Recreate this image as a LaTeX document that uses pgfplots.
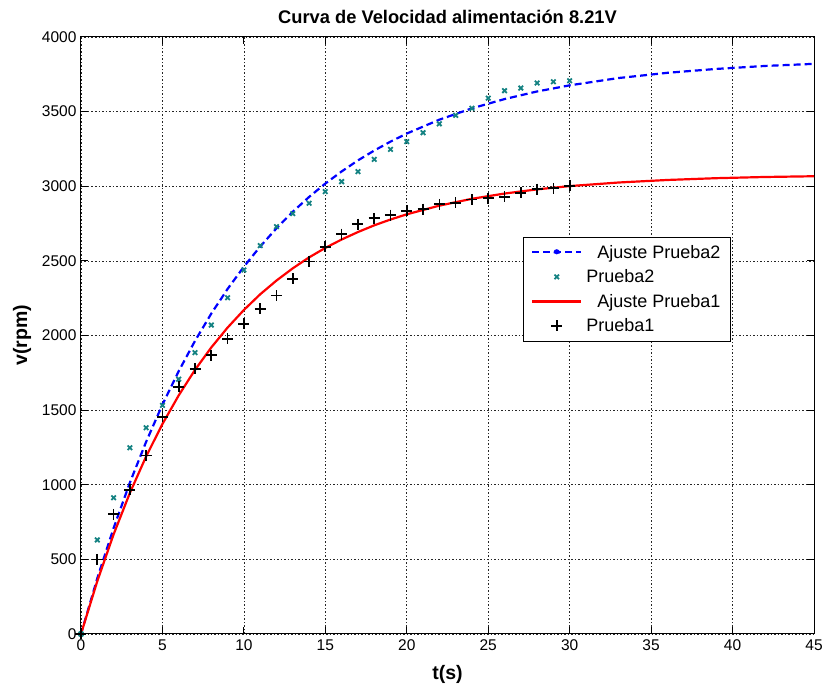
\documentclass[border=0pt]{standalone}
\usepackage{pgfplots}
\pgfplotsset{compat=1.18}
\usepackage{fontspec}
\setmainfont{Liberation Sans}
\definecolor{tealx}{RGB}{20,130,130}

\pgfplotsset{
  legend image code/.code={%
    \draw[mark repeat=2,mark phase=2,#1] plot coordinates {(0pt,0pt) (24.5pt,0pt) (49pt,0pt)};},
  dotlegend/.style={legend image code/.code={%
    \draw[##1] (0pt,0pt) -- (49pt,0pt); \fill[blue] (24.5pt,0pt) circle (2pt);}},
}

\begin{document}
\begin{tikzpicture}
\begin{axis}[
  scale only axis, width=733pt, height=597pt,
  xmin=0, xmax=45, ymin=0, ymax=4000,
  xtick={0,5,...,45}, ytick={0,500,...,4000},
  tick pos=both, tick align=inside, major tick length=7pt,
  grid=major,
  major grid style={black!85, line width=0.6pt, dash pattern=on 1.5pt off 2pt},
  axis line style={line width=1pt},
  every tick/.style={black, line width=1pt},
  xticklabel={\fontsize{15.5}{18}\selectfont\pgfmathprintnumber[assume math mode=true]{\tick}},
  yticklabel={\fontsize{15.5}{18}\selectfont\pgfmathprintnumber[assume math mode=true,set thousands separator={}]{\tick}},
  xticklabel style={yshift=-2pt},
  yticklabel style={xshift=-1pt},
  scaled y ticks=false,
  title={Curva de Velocidad alimentación 8.21V},
  title style={font=\fontsize{18.3}{22}\selectfont\bfseries, at={(axis description cs:0.5,1)}, anchor=center, yshift=14pt},
  xlabel={t(s)}, ylabel={v(rpm)},
  xlabel style={font=\fontsize{19.5}{22}\selectfont\bfseries, at={(axis description cs:0.5,0)}, anchor=center, yshift=-40pt},
  ylabel style={font=\fontsize{19.5}{22}\selectfont\bfseries, at={(axis description cs:0,0.5)}, anchor=center, yshift=59pt},
  legend style={at={(0.6026,0.6655)}, anchor=north west,
    font=\fontsize{18}{20}\selectfont, draw=black, line width=0.8pt,
    inner xsep=8pt, inner ysep=6pt, row sep=6pt,
    nodes={inner sep=2pt}, /tikz/column sep=2pt},
  legend cell align=left,
]

% ajuste prueba 2
\addplot[blue, line width=2.2pt, dash pattern=on 7pt off 4pt, dotlegend]
  coordinates {
  (0,0) (1,373) (2,709) (3,1014) (4,1288) (5,1537) (6,1761) (7,1964)
  (8,2147) (9,2312) (10,2461) (11,2596) (12,2718) (13,2829) (14,2928)
  (15,3018) (16,3099) (17,3173) (18,3239) (19,3299) (20,3353) (22,3446)
  (24,3522) (26,3584) (28,3635) (30,3676) (33,3725) (36,3760) (39,3786)
  (42,3806) (45,3820)};
\addlegendentry{\hspace{11pt}Ajuste Prueba2}

% prueba 2
\addplot[only marks, mark=x, mark size=3.2pt, tealx, line width=1.8pt]
  coordinates {
  (0,0) (1,630) (2,913) (3,1248) (4,1382) (5,1532) (6,1707) (7,1885)
  (8,2070) (9,2253) (10,2439) (11,2602) (12,2729) (13,2817) (14,2886)
  (15,2964) (16,3031) (17,3098) (18,3180) (19,3247) (20,3299) (21,3359)
  (22,3418) (23,3475) (24,3522) (25,3590) (26,3640) (27,3658) (28,3692)
  (29,3700) (30,3707)};
\addlegendentry{Prueba2}

% ajuste prueba 1
\addplot[red, line width=2.2pt]
  coordinates {
  (0,0) (1,354) (2,667) (3,945) (4,1190) (5,1407) (6,1599) (7,1770)
  (8,1920) (9,2053) (10,2171) (11,2276) (12,2368) (13,2450) (14,2523)
  (15,2587) (16,2643) (17,2693) (18,2738) (19,2777) (20,2812) (22,2870)
  (24,2916) (26,2951) (28,2979) (30,3001) (33,3025) (36,3042) (39,3054)
  (42,3062) (45,3067)};
\addlegendentry{\hspace{11pt}Ajuste Prueba1}

% prueba 1
\addplot[only marks, mark=+, mark size=5.5pt, black, line width=1.7pt]
  coordinates {
  (0,0) (1,500) (2,802) (3,965) (4,1195) (5,1456) (6,1657) (7,1776)
  (8,1869) (9,1977) (10,2077) (11,2178) (12,2267) (13,2379) (14,2495)
  (15,2595) (16,2680) (17,2747) (18,2785) (19,2807) (20,2836) (21,2846)
  (22,2879) (23,2890) (24,2912) (25,2919) (26,2930) (27,2957) (28,2980)
  (29,2986) (30,3002)};
\addlegendentry{Prueba1}

\end{axis}
\pgfresetboundingbox
\path ([shift={(-81pt,-52pt)}]current axis.south west) rectangle ([shift={(10pt,37pt)}]current axis.north east);
\end{tikzpicture}
\end{document}
